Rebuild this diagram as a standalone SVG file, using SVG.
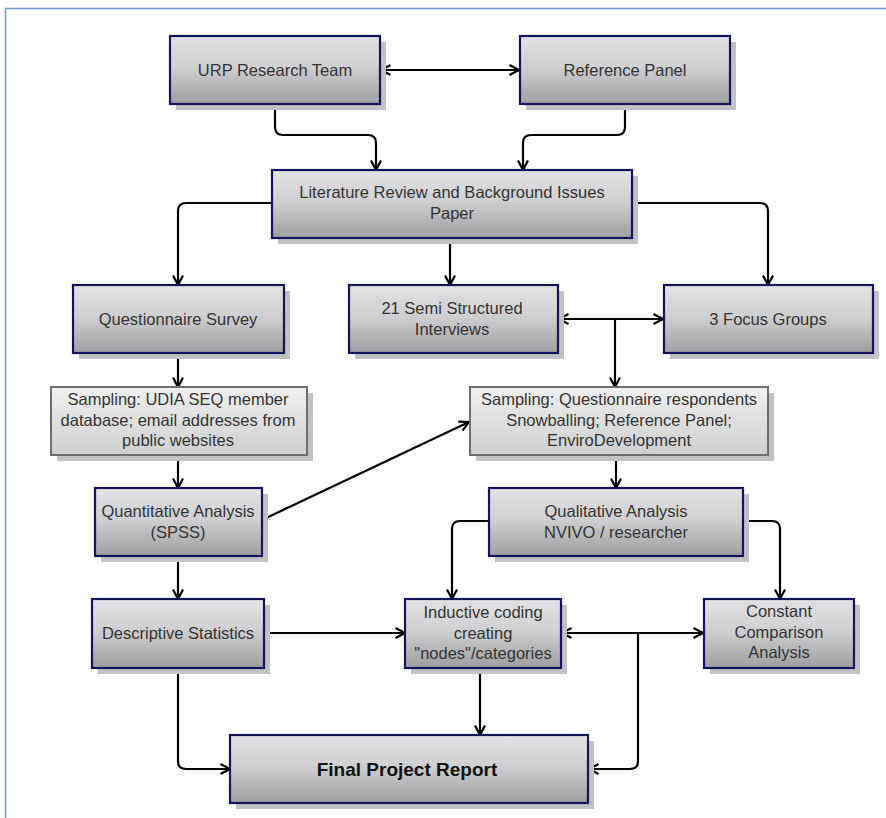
<svg xmlns="http://www.w3.org/2000/svg" width="886" height="818" viewBox="0 0 886 818">
<defs>
<linearGradient id="gMain" x1="0" y1="0" x2="0" y2="1">
<stop offset="0" stop-color="#e2e2e4"/>
<stop offset="0.45" stop-color="#d0d0d2"/>
<stop offset="1" stop-color="#9e9ea0"/>
</linearGradient>
<linearGradient id="gSamp" x1="0" y1="0" x2="0" y2="1">
<stop offset="0" stop-color="#f0f0f0"/>
<stop offset="1" stop-color="#cfcfcf"/>
</linearGradient>
<marker id="arr" viewBox="0 0 12 12" refX="11" refY="6" markerWidth="12" markerHeight="12" markerUnits="userSpaceOnUse" orient="auto-start-reverse">
<path d="M1.5,1 L11,6 L1.5,11" fill="none" stroke="#000" stroke-width="2.2" stroke-linejoin="miter"/>
</marker>
</defs>
<style>
.sh{fill:#c2c2c6}
.box{fill:url(#gMain);stroke:#14145e;stroke-width:2.2}
.samp{fill:url(#gSamp);stroke:#6e6e6e;stroke-width:2}
.t{font-family:"Liberation Sans",Arial,sans-serif;font-size:16.5px;fill:#333;text-anchor:middle}
.tb{font-family:"Liberation Sans",Arial,sans-serif;font-size:19px;font-weight:bold;fill:#111;text-anchor:middle}
.c{fill:none;stroke:#000;stroke-width:2.2}
.a{marker-end:url(#arr)}
.b{marker-start:url(#arr);marker-end:url(#arr)}
</style>
<rect width="886" height="818" fill="#fff"/>
<path d="M5.5,818 V8.5 H886" fill="none" stroke="#6f9bd1" stroke-width="1.5"/>

<g id="connectors">
<path class="c b" d="M381,70 H519"/>
<path class="c a" d="M275,104 V127 Q275,135 283,135 H368 Q376,135 376,143 V170"/>
<path class="c a" d="M625,104 V127 Q625,135 617,135 H531 Q523,135 523,143 V170"/>
<path class="c a" d="M272,203 H186 Q178,203 178,211 V285"/>
<path class="c a" d="M450,238 V285"/>
<path class="c a" d="M632,203 H760 Q768,203 768,211 V285"/>
<path class="c b" d="M559,319 H663"/>
<path class="c a" d="M615,319 V387"/>
<path class="c a" d="M178,353 V387"/>
<path class="c a" d="M178,455 V488"/>
<path class="c a" d="M264,519 L469,422"/>
<path class="c a" d="M616,455 V488"/>
<path class="c a" d="M178,556 V599"/>
<path class="c a" d="M489,521 H460 Q452,521 452,529 V599"/>
<path class="c a" d="M743,521 H772 Q780,521 780,529 V599"/>
<path class="c a" d="M264,633 H405"/>
<path class="c b" d="M562,633 H703"/>
<path class="c a" d="M638,633 V761 Q638,769 630,769 H589"/>
<path class="c a" d="M480,668 V735"/>
<path class="c a" d="M178,668 V761 Q178,769 186,769 H230"/>
</g>

<g id="urp">
<rect class="sh" x="176" y="42" width="210" height="68"/>
<rect class="box" x="170" y="36" width="210" height="68"/>
<text class="t" x="275" y="76">URP Research Team</text>
</g>
<g id="refpanel">
<rect class="sh" x="526" y="42" width="210" height="68"/>
<rect class="box" x="520" y="36" width="210" height="68"/>
<text class="t" x="625" y="76">Reference Panel</text>
</g>
<g id="litreview">
<rect class="sh" x="278" y="176" width="360" height="68"/>
<rect class="box" x="272" y="170" width="360" height="68"/>
<text class="t" x="452" y="198">Literature Review and Background Issues</text>
<text class="t" x="452" y="219">Paper</text>
</g>
<g id="questionnaire">
<rect class="sh" x="79" y="291" width="211" height="68"/>
<rect class="box" x="73" y="285" width="211" height="68"/>
<text class="t" x="178" y="325">Questionnaire Survey</text>
</g>
<g id="interviews">
<rect class="sh" x="355" y="291" width="209" height="68"/>
<rect class="box" x="349" y="285" width="209" height="68"/>
<text class="t" x="452" y="314">21 Semi Structured</text>
<text class="t" x="452" y="335">Interviews</text>
</g>
<g id="focus">
<rect class="sh" x="670" y="291" width="209" height="68"/>
<rect class="box" x="664" y="285" width="209" height="68"/>
<text class="t" x="768" y="325">3 Focus Groups</text>
</g>
<g id="samplingudia">
<rect class="sh" x="57" y="393" width="256" height="68"/>
<rect class="samp" x="51" y="387" width="256" height="68"/>
<text class="t" x="178" y="405">Sampling: UDIA SEQ member</text>
<text class="t" x="178" y="426">database; email addresses from</text>
<text class="t" x="178" y="446">public websites</text>
</g>
<g id="samplingq">
<rect class="sh" x="476" y="393" width="298" height="68"/>
<rect class="samp" x="470" y="387" width="298" height="68"/>
<text class="t" x="619" y="405">Sampling: Questionnaire respondents</text>
<text class="t" x="619" y="426">Snowballing; Reference Panel;</text>
<text class="t" x="619" y="446">EnviroDevelopment</text>
</g>
<g id="quant">
<rect class="sh" x="101" y="494" width="167" height="68"/>
<rect class="box" x="95" y="488" width="167" height="68"/>
<text class="t" x="178" y="517">Quantitative Analysis</text>
<text class="t" x="178" y="538">(SPSS)</text>
</g>
<g id="qual">
<rect class="sh" x="495" y="494" width="254" height="68"/>
<rect class="box" x="489" y="488" width="254" height="68"/>
<text class="t" x="616" y="517">Qualitative Analysis</text>
<text class="t" x="616" y="538">NVIVO / researcher</text>
</g>
<g id="descriptive">
<rect class="sh" x="98" y="605" width="172" height="69"/>
<rect class="box" x="92" y="599" width="172" height="69"/>
<text class="t" x="178" y="639">Descriptive Statistics</text>
</g>
<g id="inductive">
<rect class="sh" x="411" y="605" width="156" height="69"/>
<rect class="box" x="405" y="599" width="156" height="69"/>
<text class="t" x="483" y="618">Inductive coding</text>
<text class="t" x="483" y="639">creating</text>
<text class="t" x="483" y="659">"nodes"/categories</text>
</g>
<g id="constant">
<rect class="sh" x="710" y="605" width="150" height="69"/>
<rect class="box" x="704" y="599" width="150" height="69"/>
<text class="t" x="779" y="617">Constant</text>
<text class="t" x="779" y="638">Comparison</text>
<text class="t" x="779" y="658">Analysis</text>
</g>
<g id="final">
<rect class="sh" x="236" y="741" width="358" height="68"/>
<rect class="box" x="230" y="735" width="358" height="68"/>
<text class="tb" x="407" y="776">Final Project Report</text>
</g>
</svg>
